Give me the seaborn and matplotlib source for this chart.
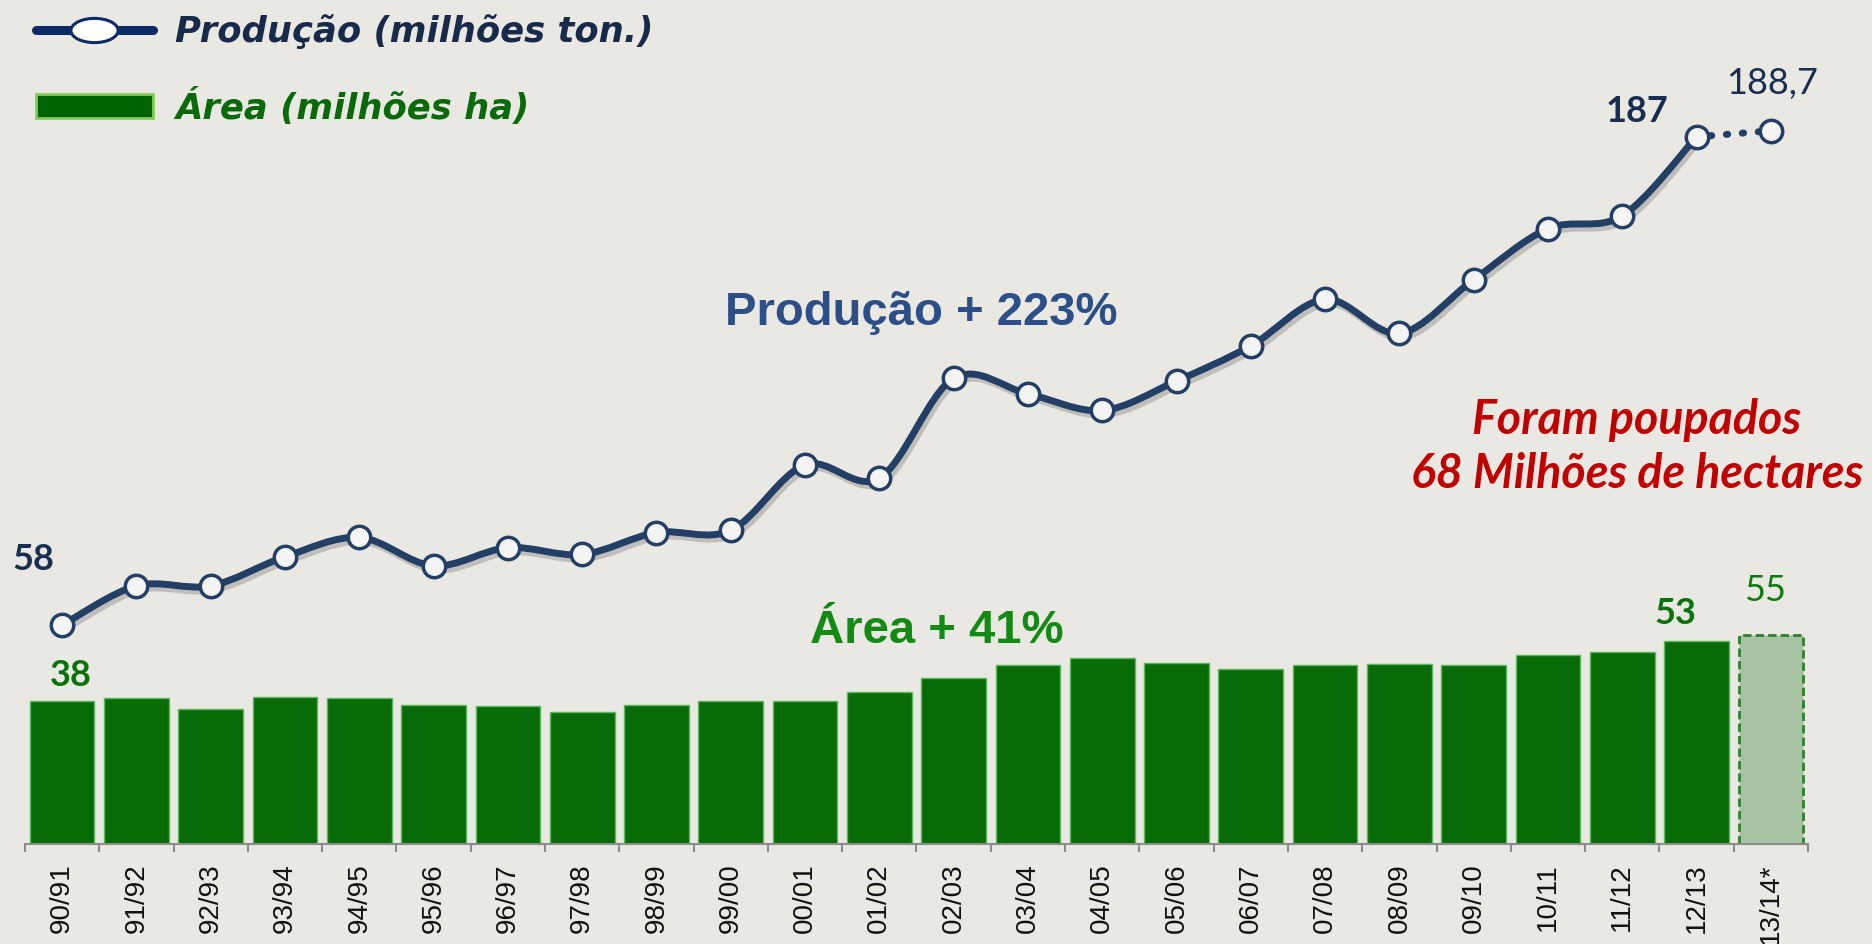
import numpy as np
import matplotlib
matplotlib.use("Agg")
import matplotlib.pyplot as plt
import matplotlib.patheffects as pe
from matplotlib.path import Path
from matplotlib.patches import PathPatch, Rectangle
from matplotlib.lines import Line2D
from matplotlib.transforms import Affine2D
import seaborn as sns

seasons = ["90/91", "91/92", "92/93", "93/94", "94/95", "95/96", "96/97", "97/98",
           "98/99", "99/00", "00/01", "01/02", "02/03", "03/04", "04/05", "05/06",
           "06/07", "07/08", "08/09", "09/10", "10/11", "11/12", "12/13", "13/14*"]
producao = [57.9, 68.3, 68.3, 76.0, 81.1, 73.6, 78.4, 76.6, 82.4, 83.0, 100.3, 96.8,
            123.2, 119.1, 114.7, 122.5, 131.8, 144.1, 135.1, 149.3, 162.8, 166.2,
            187.1, 188.7]
area = [37.9, 38.5, 35.6, 39.0, 38.5, 36.9, 36.6, 35.0, 36.9, 37.8, 37.8, 40.2,
        43.9, 47.4, 49.1, 47.9, 46.2, 47.4, 47.7, 47.4, 49.9, 50.9, 53.6, 55.3]

BG = "#e9e8e3"
NAVY = "#243f66"
GREEN = "#076b07"

sns.set_theme(style="white")
plt.rcParams["font.family"] = ["Lato", "DejaVu Sans"]

fig = plt.figure(figsize=(18.72, 9.44), dpi=100, facecolor=BG)
ax = fig.add_axes([25 / 1872, 100 / 944, 1783 / 1872, 844 / 944])
ax.set_facecolor("none")

# bars
sns.barplot(x=seasons, y=area, color=GREEN, saturation=1, width=0.87,
            edgecolor="#5cb85c", linewidth=1, ax=ax, zorder=2)
last = ax.patches[len(seasons) - 1]
last.set_facecolor("#a8c3a4")
last.set_edgecolor("#2f7f2f")
last.set_linestyle((0, (3, 1.5)))
last.set_linewidth(2)


# smoothed production line (cubic bezier through the points, like Excel's smoothing)
def smooth_path(xs, ys):
    pts = np.column_stack([xs, ys])
    n = len(pts)
    verts = [pts[0]]
    codes = [Path.MOVETO]
    for i in range(n - 1):
        pm = pts[i - 1] if i > 0 else pts[i]
        pp = pts[i + 2] if i + 2 < n else pts[i + 1]
        c1 = pts[i] + (pts[i + 1] - pm) / 6
        c2 = pts[i + 1] - (pp - pts[i]) / 6
        verts += [c1, c2, pts[i + 1]]
        codes += [Path.CURVE4] * 3
    return Path(verts, codes)


xi = np.arange(len(seasons))
curve = PathPatch(smooth_path(xi[:-1], producao[:-1]), fill=False, edgecolor=NAVY,
                  linewidth=5, capstyle="round", joinstyle="round", zorder=3,
                  transform=ax.transData)
curve.set_path_effects([pe.SimpleLineShadow(offset=(2, -3), shadow_color="k", alpha=0.2),
                        pe.Normal()])
ax.add_patch(curve)

# dotted projection segment
sns.lineplot(x=xi[-2:], y=producao[-2:], color=NAVY, linewidth=5,
             linestyle=(0.3, (0.2, 2.1)), dash_capstyle="round", ax=ax, zorder=3)
sns.scatterplot(x=xi, y=producao, s=260, color="#f4f4f4", edgecolor=NAVY,
                linewidth=2.5, ax=ax, zorder=4)

ax.set_xlim(-0.5, len(seasons) - 0.5)
ax.set_ylim(0, 223.3)
ax.set_yticks([])
ax.set_ylabel("")
for s in ["left", "top", "right"]:
    ax.spines[s].set_visible(False)
ax.spines["bottom"].set_color("#8c8c8c")
ax.spines["bottom"].set_linewidth(1.5)
ax.set_xticks(xi)
ax.set_xticklabels(seasons, rotation=90, fontsize=20, family="Liberation Sans",
                   color="#111111", va="top")
ax.tick_params(axis="x", which="major", length=0, pad=14)
ax.set_xticks(np.arange(-0.5, len(seasons), 1), minor=True)
ax.tick_params(axis="x", which="minor", length=6, width=1.5, color="#8c8c8c",
               bottom=True)

# value labels
num = dict(fontsize=26, ha="center", va="center", textcoords="offset points")
ax.annotate("58", xy=(0, producao[0]), xytext=(-21, 47), color="#182e50",
            fontweight="bold", **num)
ax.annotate("187", xy=(22, producao[22]), xytext=(-43, 18), color="#182e50",
            fontweight="bold", **num)
ax.annotate("188,7", xy=(23, producao[23]), xytext=(1, 34), color="#182e50", **num)
ax.annotate("38", xy=(0, area[0]), xytext=(6, 18), color="#0a720a",
            fontweight="bold", **num)
ax.annotate("53", xy=(22, area[22]), xytext=(-15, 20), color="#0a720a",
            fontweight="bold", **num)
ax.annotate("55", xy=(23, area[23]), xytext=(-4, 32), color="#0f7a0f", **num)

ax.text(0.5025, 0.615, "Produção + 223%", transform=ax.transAxes, ha="center",
        va="baseline", fontsize=34, fontweight="bold", family="Liberation Sans",
        color="#2b4f86")
ax.text(0.5115, 0.238, "Área + 41%", transform=ax.transAxes, ha="center",
        va="baseline", fontsize=34, fontweight="bold", family="Liberation Sans",
        color="#138a13")
ax.text(0.9041, 0.4215, "Foram poupados\n68 Milhões de hectares", transform=ax.transAxes,
        ha="center", va="baseline", multialignment="center", fontsize=33.5,
        fontweight="bold", style="italic", color="#c00000", linespacing=1.29)

# legend
ellipse = Path.unit_circle().transformed(Affine2D().scale(1.95, 1.0))
h_line = Line2D([], [], color="#0c2a66", linewidth=6.5, marker=ellipse, markersize=34,
                markerfacecolor="white", markeredgecolor="#0c2a66", markeredgewidth=2.2)
h_bar = Rectangle((0, 0), 1, 1, facecolor="#006400", edgecolor="#86cc5a", linewidth=2)
leg = fig.legend([h_line, h_bar], ["Produção (milhões ton.)", "Área (milhões ha)"],
                 loc="upper left", bbox_to_anchor=(36 / 1872, 1 - 14 / 944),
                 frameon=False, borderpad=0, borderaxespad=0, handlelength=3.3,
                 handleheight=0.66, handletextpad=0.62, labelspacing=1.1,
                 prop={"family": "DejaVu Sans", "style": "oblique", "weight": "bold",
                       "size": 25.5})
leg.get_texts()[0].set_color("#182a4a")
leg.get_texts()[1].set_color("#0a6a0a")

fig.savefig("out.png", dpi=100, facecolor=BG)
